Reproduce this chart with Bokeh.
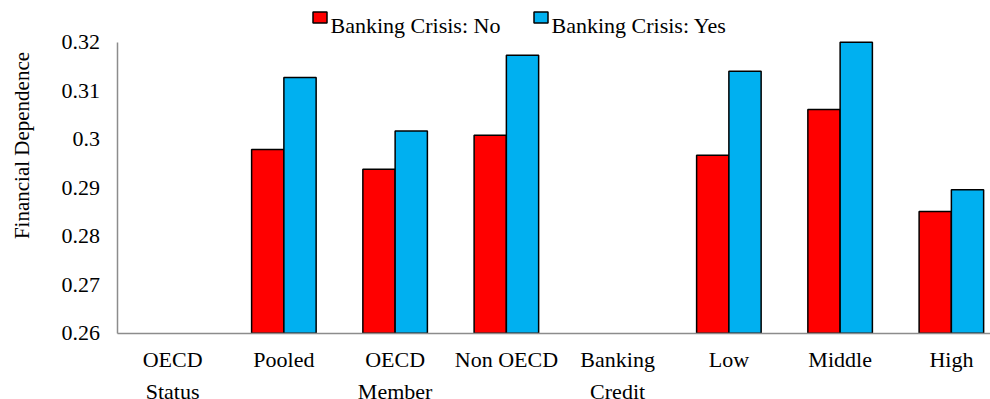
import math
import numpy as np
from bokeh.plotting import figure
from bokeh.models import Range1d, FixedTicker, Label, ColumnDataSource, LinearAxis
from bokeh.core.properties import value
from bokeh.embed import file_html
from bokeh.resources import INLINE

categories = ["OECD\nStatus", "Pooled", "OECD\nMember", "Non OECD", "Banking\nCredit", "Low", "Middle", "High"]
crisis_no = [np.nan, 0.2979, 0.2938, 0.3008, np.nan, 0.2967, 0.3061, 0.2851]
crisis_yes = [np.nan, 0.3127, 0.3017, 0.3173, np.nan, 0.3140, 0.3200, 0.2896]
y_ticks = [0.26, 0.27, 0.28, 0.29, 0.30, 0.31, 0.32]
y_tick_labels = ["0.26", "0.27", "0.28", "0.29", "0.3", "0.31", "0.32"]
series_names = ["Banking Crisis: No", "Banking Crisis: Yes"]
series_colors = ["#FF0000", "#00B0F0"]

FONT = "Liberation Serif"
BAR_W = 0.29
TINY = 1e-4  # near-zero text angle

# The frame covers the whole canvas; the plotting area is set through the ranges.
W, H = 990, 399
PX_LEFT, PX_TOP, PX_BOTTOM, PX_CAT = 116.5, 41.7, 332.7, 111.25
y_per_px = (y_ticks[-1] - y_ticks[0]) / (PX_BOTTOM - PX_TOP)
y0 = y_ticks[0] - (H - PX_BOTTOM) * y_per_px
y1 = y_ticks[-1] + PX_TOP * y_per_px
x0 = -PX_LEFT / PX_CAT
x1 = (W - PX_LEFT) / PX_CAT


def sx_to_x(sx):
    return x0 + sx / PX_CAT


def sy_to_y(sy):
    return y1 - sy * y_per_px


p = figure(width=W, height=H, output_backend="svg", toolbar_location=None,
           x_range=Range1d(x0, x1), y_range=Range1d(y0, y1),
           x_axis_location=None, y_axis_location=None,
           min_border=0, min_border_left=0, min_border_right=0, min_border_top=0, min_border_bottom=0)
p.title.visible = False
p.outline_line_color = None
p.grid.visible = False
p.background_fill_color = "white"
p.border_fill_color = "white"

for vals, col, off in zip([crisis_no, crisis_yes], series_colors, [-BAR_W / 2, BAR_W / 2]):
    xs, tops = [], []
    for i, v in enumerate(vals):
        if not (isinstance(v, float) and math.isnan(v)):
            xs.append(i + 0.5 + off)
            tops.append(v)
    src = ColumnDataSource(dict(x=xs, top=tops))
    p.vbar(x="x", top="top", bottom=y_ticks[0], width=BAR_W, source=src,
           fill_color=col, line_color="black", line_width=1.5)

# axis lines
xaxis = LinearAxis(fixed_location=y_ticks[0], bounds=(0, x1),
                   ticker=FixedTicker(ticks=[i + 0.5 for i in range(len(categories))]))
yaxis = LinearAxis(fixed_location=0, bounds=(y_ticks[0], y_ticks[-1]),
                   ticker=FixedTicker(ticks=y_ticks))
for ax in (xaxis, yaxis):
    ax.axis_line_color = "#8c8c8c"
    ax.axis_line_width = 1.5
    ax.major_tick_line_color = None
    ax.minor_tick_line_color = None
    ax.major_tick_out = 0
    ax.major_tick_in = 0
    ax.minor_tick_out = 0
    ax.minor_tick_in = 0
    ax.major_label_text_font_size = "0px"
    ax.major_label_text_alpha = 0
p.add_layout(xaxis, "below")
p.add_layout(yaxis, "left")

# y tick labels
p.text(x=[0] * len(y_ticks), y=y_ticks, text=y_tick_labels, x_offset=-17, angle=TINY,
       text_align="right", text_baseline="middle",
       text_font=value(FONT), text_font_size="22px", text_color="black")

# category labels
p.text(x=[i + 0.5 for i in range(len(categories))], y=[y_ticks[0]] * len(categories),
       text=categories, y_offset=14, angle=TINY, text_align="center", text_baseline="top",
       text_line_height=1.26,
       text_font=value(FONT), text_font_size="22px", text_color="black")

# y axis title
p.add_layout(Label(x=21, y=H - 145, x_units="screen", y_units="screen", text="Financial Dependence",
                   angle=math.pi / 2, text_align="center", text_baseline="middle",
                   text_font=FONT, text_font_size="21px", text_color="black"))

# legend (swatch + label)
legend_sx = [312, 533]
for name, col, sx in zip(series_names, series_colors, legend_sx):
    p.rect(x=sx_to_x(sx + 7.5), y=sy_to_y(17), width=14, height=11,
           width_units="screen", height_units="screen",
           fill_color=col, line_color="black", line_width=1.5)
    p.add_layout(Label(x=sx + 18, y=H - 25, x_units="screen", y_units="screen", text=name,
                       angle=TINY, text_align="left", text_baseline="alphabetic",
                       text_font=FONT, text_font_size="22px", text_color="black"))

open("out.html", "w").write(file_html(p, INLINE))
